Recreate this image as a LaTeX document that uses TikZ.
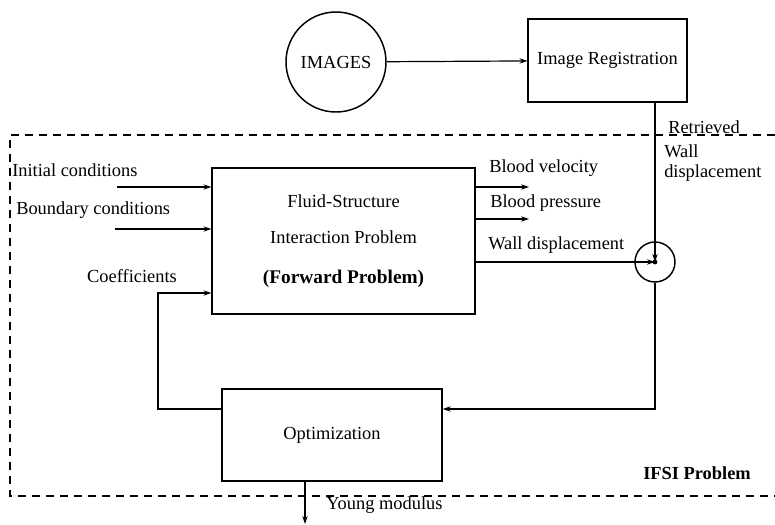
\documentclass[tikz,border=0pt]{standalone}
\usepackage{fontspec}
\setmainfont{Liberation Serif}
\usetikzlibrary{arrows.meta}
\begin{document}
\begin{tikzpicture}[x=0.75pt,y=-0.75pt,font=\fontsize{13.8}{15}\selectfont,
	>={Stealth[length=6pt,width=4pt]}]
	\useasboundingbox (0,0) rectangle (775,525);
	
	\begin{scope}[every node/.style={draw,line width=1.1pt,inner sep=0pt}]
		\node[circle,minimum size=75pt] (img) at (336,62) {IMAGES};
		\node[minimum width=119pt,minimum height=62pt] (reg) at (607.5,60.5) {Image Registration};
		\node[minimum width=197pt,minimum height=109.5pt,align=center] (fsi) at (343.5,241)
			{Fluid-Structure\\[12pt] Interaction Problem\\[15pt] {\fontsize{14.5}{15}\selectfont\textbf{(Forward Problem)}}};
		\node[minimum width=165pt,minimum height=69pt] (opt) at (332,435) {Optimization};
		\node[circle,minimum size=30pt] (jn) at (655,262) {};
	\end{scope}
	\fill (jn.center) circle (1.8pt);
	
	% IFSI frame
	\draw[line width=1.2pt,dash pattern=on 6pt off 4.5pt] (775,135) -- (10,135) -- (10,496) -- (775,496);
	
	\coordinate (ic) at (117,187);
	\coordinate (bc) at (115,229);
	\coordinate (fb) at (158,293);
	\coordinate (bv) at (529,187);
	\coordinate (bp) at (529,219);
	\coordinate (ym) at (305,524);
	
	\begin{scope}[every path/.style={draw,line width=0.9pt}]
		\path [->] (img) -- (reg);
		\path [->] (reg.south -| jn) -- (jn.center);
		\path [->] (fsi.east |- jn) -- (jn.center);
		\path [->] (jn.south) |- ([yshift=19.5pt]opt.east);
		\path [->] ([yshift=19.5pt]opt.west) -| (fb) -- (fb -| fsi.west);
		\path [->] (ic) -- (ic -| fsi.west);
		\path [->] (bc) -- (bc -| fsi.west);
		\path [->] (fsi.east |- bv) -- (bv);
		\path [->] (fsi.east |- bp) -- (bp);
		\path [->] (opt.south -| ym) -- (ym);
	\end{scope}
	
	\begin{scope}[every node/.style={inner sep=0pt}]
		\node [anchor=west] (lic) at (12,170) {Initial conditions};
		\node [anchor=west] (lbc) at (16,210) {Boundary conditions};
		\node (lcf) at (132,276) {Coefficients};
		\node [anchor=west] (lbv) at (489,168) {Blood velocity};
		\node [anchor=west] (lbp) at (490,203) {Blood pressure};
		\node [anchor=west] (lwd) at (488,245) {Wall displacement};
		\node [anchor=west] (lrt) at (668,127) {Retrieved};
		\node [anchor=west,align=left] (lrw) at (664,163) {Wall\\displacement};
		\node (lifsi) at (697,473) {\textbf{IFSI Problem}};
		\node [anchor=west] (lym) at (326,505) {Young modulus};
	\end{scope}
\end{tikzpicture}
\end{document}
